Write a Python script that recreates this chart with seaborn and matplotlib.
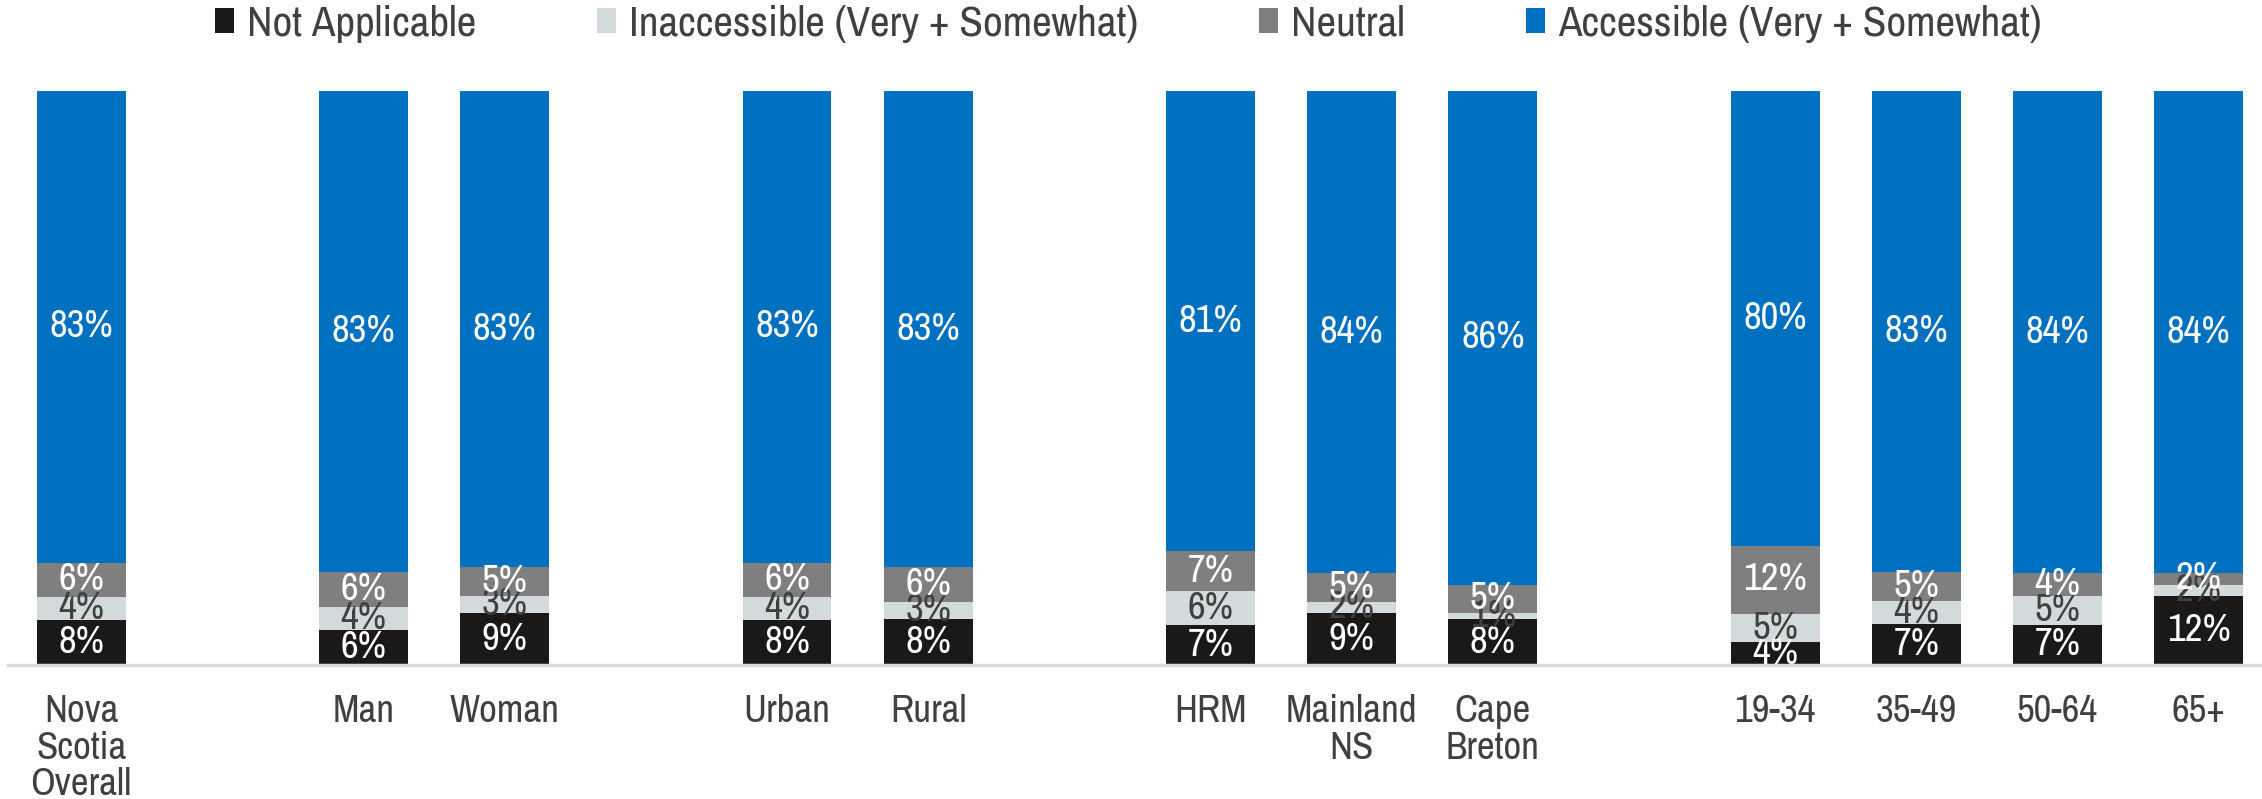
import numpy as np
import pandas as pd
import matplotlib
matplotlib.use("Agg")
import matplotlib.pyplot as plt
from matplotlib import font_manager
import seaborn as sns
from matplotlib.patches import Patch

sns.set_theme(style="white")

# Prefer a narrow, light sans face when one is installed
names = {f.name for f in font_manager.fontManager.ttflist}
narrow = [f for f in font_manager.fontManager.ttflist
          if ("Narrow" in f.fname or "Condensed" in f.fname or "Narrow" in f.name)]
narrow_names = sorted({f.name for f in narrow})
stretch = "normal"
if "Liberation Sans Narrow" in names:
    fam = ["Liberation Sans Narrow", "DejaVu Sans"]
elif narrow_names:
    fam = [narrow_names[0], "DejaVu Sans"]
    stretch = "condensed"
else:
    fam = ["Liberation Sans", "DejaVu Sans"]
plt.rcParams["font.family"] = fam
plt.rcParams["font.stretch"] = stretch
plt.rcParams["font.weight"] = "light"

# Groups (blank entries are spacer slots between demographic groups)
categories = ["Nova\nScotia\nOverall", "Man", "Woman", "Urban", "Rural",
              "HRM", "Mainland\nNS", "Cape\nBreton", "19-34", "35-49", "50-64", "65+"]
slot_order = ["Nova\nScotia\nOverall", " ", "Man", "Woman", "  ", "Urban", "Rural",
              "   ", "HRM", "Mainland\nNS", "Cape\nBreton", "    ",
              "19-34", "35-49", "50-64", "65+"]

not_applicable = [8, 6, 9, 8, 8, 7, 9, 8, 4, 7, 7, 12]
inaccessible = [4, 4, 3, 4, 3, 6, 2, 1, 5, 4, 5, 2]
neutral = [6, 6, 5, 6, 6, 7, 5, 5, 12, 5, 4, 2]
accessible = [83, 83, 83, 83, 83, 81, 84, 86, 80, 83, 84, 84]

series_names = ["Not Applicable", "Inaccessible (Very + Somewhat)", "Neutral",
                "Accessible (Very + Somewhat)"]
series_vals = [not_applicable, inaccessible, neutral, accessible]
colors = ["#1a1917", "#d3dadc", "#7f7f7f", "#0070c0"]
label_colors = ["white", "#404040", "white", "white"]

vals = np.array(series_vals, dtype=float)
shares = vals / vals.sum(axis=0) * 100  # 100% stacked
cum = np.cumsum(shares, axis=0)

fig = plt.figure(figsize=(22.62, 7.99), dpi=100)
ax = fig.add_axes([0.0035, 0.1677, 0.9965, 0.7185])

# Draw cumulative totals from the top layer down so each layer covers the one above
for i in range(3, -1, -1):
    df = pd.DataFrame({"group": categories, "value": cum[i]})
    sns.barplot(data=df, x="group", y="value", order=slot_order, color=colors[i],
                width=0.63, saturation=1, ax=ax, linewidth=0, errorbar=None)

slot_pos = {name: k for k, name in enumerate(slot_order)}
for i in range(4):
    for j, cat in enumerate(categories):
        bottom = cum[i][j] - shares[i][j]
        ax.text(slot_pos[cat], bottom + shares[i][j] / 2, f"{int(vals[i][j])}%",
                ha="center", va="center", color=label_colors[i], fontsize=28)

ax.set_xlim(-0.52, 15.45)
ax.set_ylim(0, 100)
ax.set_xlabel("")
ax.set_ylabel("")
ax.set_yticks([])
for s in ["top", "right", "left"]:
    ax.spines[s].set_visible(False)
ax.spines["bottom"].set_color("#d9d9d9")
ax.spines["bottom"].set_linewidth(2.5)
ax.tick_params(axis="x", length=0, pad=21, labelsize=28, labelcolor="#404040")
for t in ax.get_xticklabels():
    t.set_linespacing(1.05)
    t.set_verticalalignment("top")

handles = [Patch(facecolor=c, edgecolor="none") for c in colors]
fig.legend(handles, series_names, loc="center", bbox_to_anchor=(0.4988, 0.97), ncol=4,
           frameon=False, fontsize=31, labelcolor="#404040", handlelength=0.45,
           handleheight=0.5, handletextpad=0.3, columnspacing=2.8)

fig.savefig("out.png", dpi=100, facecolor="white")
